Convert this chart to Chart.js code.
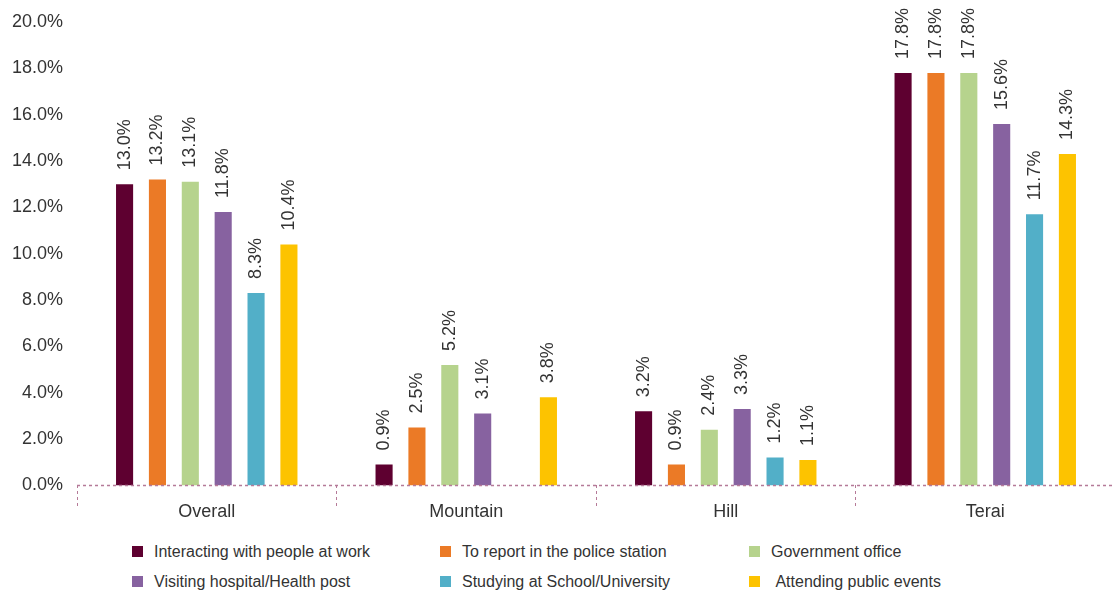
<!DOCTYPE html>
<html>
<head>
<meta charset="utf-8">
<script src="https://cdn.jsdelivr.net/npm/chart.js@4"></script>
<style>
  body { margin: 0; background: #fff; font-family: "Liberation Sans", sans-serif; }
  #wrap { position: relative; width: 1115px; height: 517px; }
  #legend { position: absolute; left: 0; top: 542px; width: 1115px; }
  .item { position: absolute; font-size: 16px; color: #333; white-space: nowrap; line-height: 20px; }
  .item span { display: inline-block; width: 11px; height: 11px; margin-right: 11px; vertical-align: 0px; }
</style>
</head>
<body>
<div id="wrap"><canvas id="chart"></canvas></div>
<div id="legend"></div>
<script>
const categories = ['Overall', 'Mountain', 'Hill', 'Terai'];
const seriesNames = [
  'Interacting with people at work',
  'To report in the police station',
  'Government office',
  'Visiting hospital/Health post',
  'Studying at School/University',
  '\u00a0Attending public events'
];
const work = [13.0, 0.9, 3.2, 17.8];
const police = [13.2, 2.5, 0.9, 17.8];
const government = [13.1, 5.2, 2.4, 17.8];
const hospital = [11.8, 3.1, 3.3, 15.6];
const school = [8.3, null, 1.2, 11.7];
const events = [10.4, 3.8, 1.1, 14.3];
const colors = ['#5e0030', '#eb7a26', '#b6d38d', '#8762a0', '#52afc8', '#fdc300'];
const yTicks = [0, 2, 4, 6, 8, 10, 12, 14, 16, 18, 20];

const seriesValues = [work, police, government, hospital, school, events];
const FONT = '"Liberation Sans", sans-serif';
const AXIS_COLOR = '#b57a98';

// value labels, rotated, above each bar
const valueLabels = {
  id: 'valueLabels',
  afterDatasetsDraw(chart) {
    const ctx = chart.ctx;
    ctx.save();
    ctx.font = '18px ' + FONT;
    ctx.fillStyle = '#333';
    ctx.textAlign = 'left';
    ctx.textBaseline = 'middle';
    chart.data.datasets.forEach((ds, i) => {
      chart.getDatasetMeta(i).data.forEach((bar, j) => {
        const v = ds.data[j];
        if (v === null) return;
        ctx.save();
        ctx.translate(bar.x, bar.y - 14);
        ctx.rotate(-Math.PI / 2);
        ctx.fillText(v.toFixed(1) + '%', 0, 0);
        ctx.restore();
      });
    });
    ctx.restore();
  }
};

// dashed baseline (the built-in border is always solid)
const dashedBaseline = {
  id: 'dashedBaseline',
  afterDatasetsDraw(chart) {
    const { ctx, chartArea, scales } = chart;
    const y = Math.round(scales.y.getPixelForValue(0)) + 0.5;
    ctx.save();
    ctx.strokeStyle = AXIS_COLOR;
    ctx.lineWidth = 1.5;
    ctx.setLineDash([3, 3]);
    ctx.beginPath();
    ctx.moveTo(chartArea.left, y);
    ctx.lineTo(chartArea.right, y);
    ctx.stroke();
    ctx.restore();
  }
};

new Chart(document.getElementById('chart'), {
  type: 'bar',
  data: {
    labels: categories,
    datasets: seriesValues.map((vals, i) => ({
      label: seriesNames[i],
      data: vals,
      backgroundColor: colors[i],
      categoryPercentage: 0.76,
      barPercentage: 0.52
    }))
  },
  options: {
    responsive: true,
    maintainAspectRatio: false,
    animation: false,
    layout: { padding: { top: 22, right: 0, left: 0, bottom: 0 } },
    plugins: { legend: { display: false }, tooltip: { enabled: false } },
    scales: {
      y: {
        min: 0,
        max: 20,
        afterBuildTicks: (axis) => { axis.ticks = yTicks.map(v => ({ value: v })); },
        afterFit: (axis) => { axis.width = 77; },
        ticks: {
          callback: (v) => v.toFixed(1) + '%',
          color: '#333',
          font: { family: FONT, size: 18 },
          padding: 6
        },
        grid: { display: false },
        border: { display: false }
      },
      x: {
        grid: {
          offset: true,
          drawOnChartArea: false,
          tickLength: 22,
          color: AXIS_COLOR,
          tickBorderDash: [3, 3]
        },
        border: { display: false },
        ticks: {
          color: '#333',
          font: { family: FONT, size: 18 },
          padding: -6
        }
      }
    }
  },
  plugins: [valueLabels, dashedBaseline]
});

const legendPos = [[132, 0], [440, 0], [749, 0], [132, 30], [440, 30], [749, 30]];
const legend = document.getElementById('legend');
seriesNames.forEach((name, i) => {
  const d = document.createElement('div');
  d.className = 'item';
  d.style.left = legendPos[i][0] + 'px';
  d.style.top = legendPos[i][1] + 'px';
  d.innerHTML = '<span style="background:' + colors[i] + '"></span>' + name;
  legend.appendChild(d);
});
</script>
</body>
</html>
